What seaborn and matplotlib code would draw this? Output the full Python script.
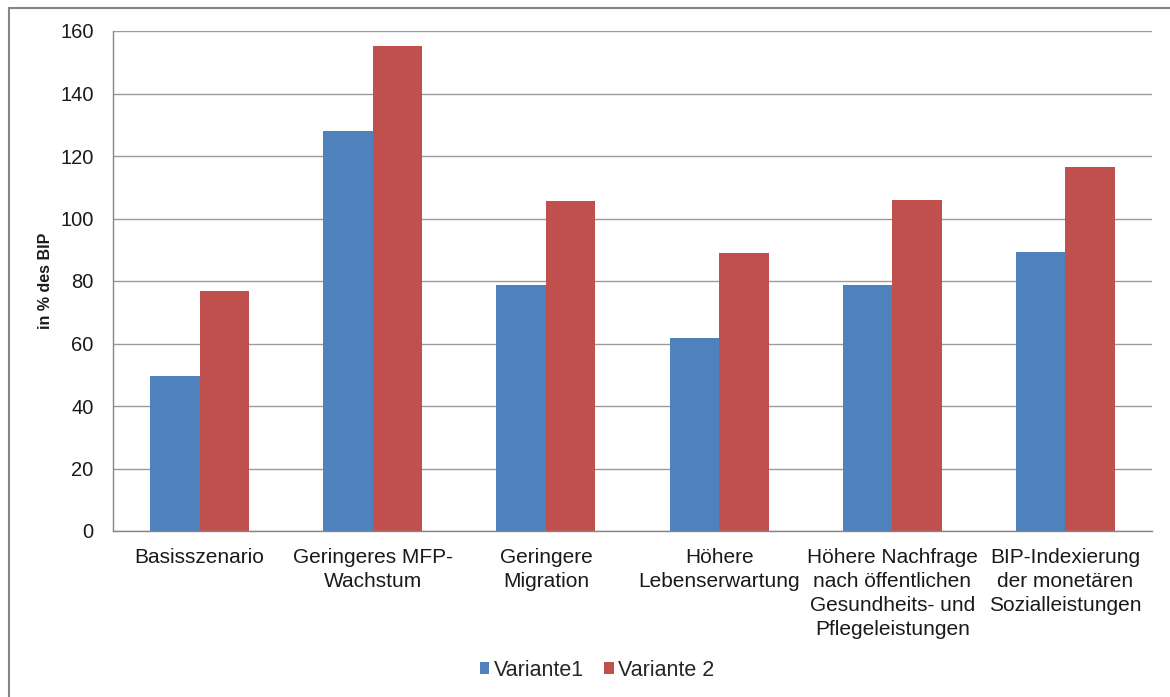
import matplotlib
matplotlib.use("Agg")
import matplotlib.pyplot as plt
import seaborn as sns
import pandas as pd
from matplotlib.patches import Patch
from matplotlib.lines import Line2D

categories = [
    "Basisszenario",
    "Geringeres MFP-\nWachstum",
    "Geringere\nMigration",
    "Höhere\nLebenserwartung",
    "Höhere Nachfrage\nnach öffentlichen\nGesundheits- und\nPflegeleistungen",
    "BIP-Indexierung\nder monetären\nSozialleistungen",
]
variante1 = [49.5, 128.0, 78.6, 61.7, 78.6, 89.2]
variante2 = [76.7, 155.3, 105.5, 88.9, 105.8, 116.5]
series_names = ["Variante1", "Variante 2"]
colors = ["#4F81BD", "#C0504D"]
y_ticks = [0, 20, 40, 60, 80, 100, 120, 140, 160]

df = pd.DataFrame({
    "Kategorie": categories * 2,
    "Wert": variante1 + variante2,
    "Serie": [series_names[0]] * len(categories) + [series_names[1]] * len(categories),
})

sns.set_style("white")
plt.rcParams["font.family"] = ["Liberation Sans", "DejaVu Sans"]

fig = plt.figure(figsize=(11.7, 6.97), dpi=100)
ax = fig.add_axes([113 / 1170, 1 - 531 / 697, (1152 - 113) / 1170, (531 - 31) / 697])

sns.barplot(data=df, x="Kategorie", y="Wert", hue="Serie", palette=colors,
            width=0.572, gap=0, ax=ax, legend=False, saturation=1,
            edgecolor="none", linewidth=0)

ax.set_ylim(0, 160)
ax.set_xlim(-0.5, len(categories) - 0.5)
ax.set_yticks(y_ticks)
ax.set_yticklabels([str(v) for v in y_ticks], fontsize=14.5, color="#1a1a1a")
ax.yaxis.grid(True, color="#9a9a9a", linewidth=1.0)
ax.set_axisbelow(True)

ax.set_xticks(range(len(categories)))
ax.set_xticklabels(categories, fontsize=15, color="#1a1a1a", linespacing=1.33)
ax.tick_params(axis="x", which="major", length=0, pad=12)
ax.set_xticks([i - 0.5 for i in range(len(categories) + 1)], minor=True)
ax.tick_params(axis="x", which="minor", length=6, color="#868686", width=1, direction="out")
ax.tick_params(axis="y", which="major", length=6, color="#868686", width=1, direction="out", pad=8)

ax.set_xlabel("")
ax.set_ylabel("")
for side in ["top", "right"]:
    ax.spines[side].set_visible(False)
for side in ["left", "bottom"]:
    ax.spines[side].set_color("#868686")
    ax.spines[side].set_linewidth(1)

fig.text(46 / 1170, 1 - 281 / 697, "in % des BIP", rotation=90, ha="center", va="center",
         fontsize=11.5, fontweight="bold", color="#1a1a1a")

handles = [Patch(facecolor=c, edgecolor="none", label=n) for c, n in zip(colors, series_names)]
fig.legend(handles=handles, loc="center", bbox_to_anchor=(597 / 1170, 1 - 670 / 697),
           ncol=2, frameon=False, fontsize=15.5, handlelength=0.45, handleheight=0.45,
           handletextpad=0.2, columnspacing=0.95)

# outer chart border (left and top visible)
fig.add_artist(Line2D([9 / 1170, 9 / 1170], [0, 1 - 8 / 697], transform=fig.transFigure,
                      color="#868686", linewidth=1.5))
fig.add_artist(Line2D([9 / 1170, 1], [1 - 8 / 697, 1 - 8 / 697], transform=fig.transFigure,
                      color="#868686", linewidth=1.5))

fig.savefig("out.png", dpi=100, facecolor="white")
